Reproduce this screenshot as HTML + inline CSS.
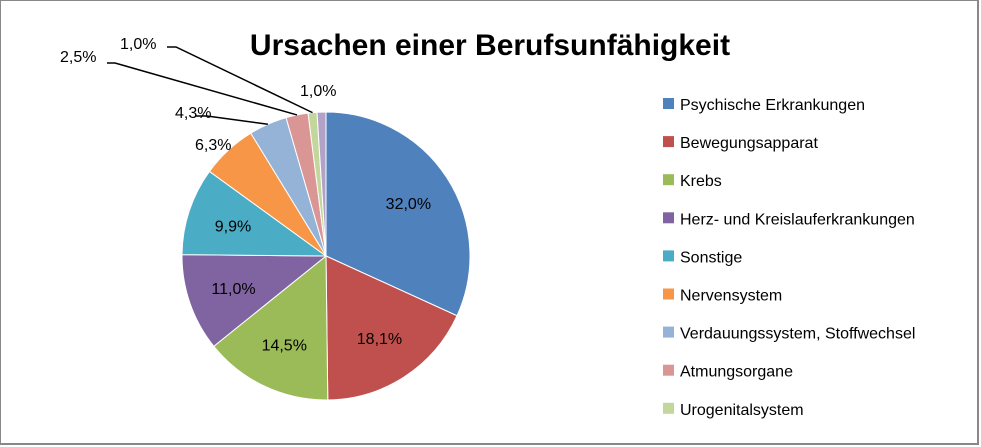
<!DOCTYPE html>
<html><head><meta charset="utf-8"><style>
body{margin:0;background:#fff;}
#wrap{position:relative;width:981px;height:447px;overflow:hidden;background:#fff;}
#frame{position:absolute;left:0;top:0;width:976px;height:442px;border:1px solid #888;border-right:2px solid #888;border-bottom:2px solid #888;box-sizing:content-box;}
text{font-family:"Liberation Sans",sans-serif;}
</style></head><body>
<div id="wrap">
<div id="frame"></div>
<svg id="svg" width="981" height="447" style="position:absolute;left:0;top:0">
<text x="490" y="55" text-anchor="middle" font-size="30" font-weight="bold" fill="#000">Ursachen einer Berufsunfähigkeit</text>
</svg>
</div>
<script>
const categories=["Psychische Erkrankungen","Bewegungsapparat","Krebs","Herz- und Kreislauferkrankungen","Sonstige","Nervensystem","Verdauungssystem, Stoffwechsel","Atmungsorgane","Urogenitalsystem","Sonstige Ursachen"];
const values=[32.0,18.1,14.5,11.0,9.9,6.3,4.3,2.5,1.0,1.0];
const labels=["32,0%","18,1%","14,5%","11,0%","9,9%","6,3%","4,3%","2,5%","1,0%","1,0%"];
const colors=["#4F81BD","#C0504D","#9BBB59","#8064A2","#4BACC6","#F79646","#95B3D7","#D99694","#C3D69B","#B3A2C7"];
const legendCount=9;
const svg=document.getElementById('svg');
const NS="http://www.w3.org/2000/svg";
const cx=326,cy=256,r=144;
const total=values.reduce((a,b)=>a+b,0);
function pt(a,rr){return [cx+rr*Math.sin(a),cy-rr*Math.cos(a)];}
let acc=0;
const outer={5:[195,150,null],6:[175,118,[195,116,207,116]],7:[60,62,[107,63,115,63]],8:[120,49,[167,47,176,47]],9:[300,96,null]};
values.forEach((v,i)=>{
  const a0=acc/total*2*Math.PI; acc+=v; const a1=acc/total*2*Math.PI;
  const p0=pt(a0,r),p1=pt(a1,r);
  const large=(a1-a0)>Math.PI?1:0;
  const p=document.createElementNS(NS,'path');
  p.setAttribute('d',`M${cx},${cy}L${p0[0]},${p0[1]}A${r},${r} 0 ${large} 1 ${p1[0]},${p1[1]}Z`);
  p.setAttribute('fill',colors[i]);p.setAttribute('stroke','#fff');p.setAttribute('stroke-width','1');
  
  
  svg.appendChild(p);
  const am=(a0+a1)/2;
  const t=document.createElementNS(NS,'text');
  t.setAttribute('font-size','16');t.setAttribute('fill','#000');
  
  
  t.textContent=labels[i];
  if(outer[i]){
    const o=outer[i];
    t.setAttribute('x',o[0]);t.setAttribute('y',o[1]);
    if(o[2]){
      const e=pt(am,r);
      const l=document.createElementNS(NS,'polyline');
      l.setAttribute('points',`${o[2][0]},${o[2][1]} ${o[2][2]},${o[2][3]} ${e[0]},${e[1]}`);
      l.setAttribute('fill','none');l.setAttribute('stroke','#000');l.setAttribute('stroke-width','1.5');
      
      
      svg.appendChild(l);
    }
  } else {
    const q=pt(am,r*0.68);
    t.setAttribute('x',q[0]);t.setAttribute('y',q[1]+6);t.setAttribute('text-anchor','middle');
  }
  svg.appendChild(t);
});
for(let i=0;i<legendCount;i++){
  const y=104+i*38.1;
  const s=document.createElementNS(NS,'rect');
  s.setAttribute('x',663);s.setAttribute('y',y-6);s.setAttribute('width',11);s.setAttribute('height',11);
  s.setAttribute('fill',colors[i]);
  
  
  svg.appendChild(s);
  const t=document.createElementNS(NS,'text');
  t.setAttribute('x',680);t.setAttribute('y',y+6);t.setAttribute('font-size','16');t.setAttribute('fill','#000');
  t.textContent=categories[i];
  
  
  svg.appendChild(t);
}
</script>
</body></html>
